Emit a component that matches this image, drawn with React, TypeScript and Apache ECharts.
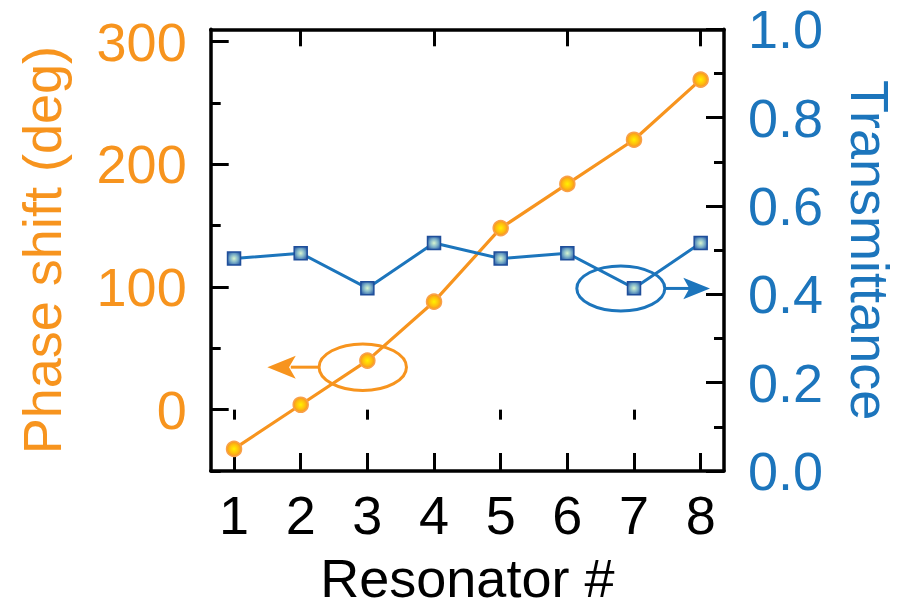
import React, { useEffect, useRef } from "react";
import * as echarts from "echarts";

// ---- data ----
const resonators = [1, 2, 3, 4, 5, 6, 7, 8];
const phaseShift = [-32, 4, 40, 88, 148, 184, 220, 269];
const transmittance = [0.481, 0.493, 0.414, 0.516, 0.481, 0.493, 0.414, 0.516];

// ---- ticks ----
const phaseMajorTicks = [0, 100, 200, 300];
const phaseMinorTicks = [-50, 50, 150, 250];
const xTopLongTicks = [2, 4, 6, 8];
const xTopShortTicks = [1, 3, 5, 7];

const ORANGE = "#F7941E";
const BLUE = "#1C75BC";
const FONT = "'Liberation Sans', Arial, sans-serif";

export default function App() {
  const ref = useRef<HTMLDivElement>(null);

  useEffect(() => {
    const chart = echarts.init(ref.current as HTMLDivElement, null, { renderer: "svg" });

    const frameLine = { show: true, onZero: false, lineStyle: { color: "#000", width: 3.5 } };
    const tickLine = { color: "#000", width: 3 };
    const xCommon: any = { type: "value", min: 0.65, max: 8.35, splitLine: { show: false } };
    const yLeftCommon: any = { type: "value", min: -50, max: 310, splitLine: { show: false }, position: "left" };

    const option: any = {
      animation: false,
      backgroundColor: "#ffffff",
      textStyle: { fontFamily: FONT },
      grid: { left: 210.7, right: 180, top: 29.3, bottom: 131, containLabel: false },
      xAxis: [
        {
          ...xCommon,
          position: "bottom",
          axisLine: frameLine,
          axisTick: { show: true, inside: true, length: 18, customValues: resonators, lineStyle: tickLine },
          axisLabel: { show: true, customValues: resonators, fontSize: 54, color: "#000", margin: 17, fontFamily: FONT },
          name: "Resonator #",
          nameLocation: "middle",
          nameGap: 80,
          nameTextStyle: { fontSize: 54, color: "#000", fontFamily: FONT },
        },
        {
          ...xCommon,
          position: "top",
          axisLine: frameLine,
          axisTick: { show: true, inside: true, length: 17, customValues: xTopLongTicks, lineStyle: tickLine },
          axisLabel: { show: false },
        },
        {
          ...xCommon,
          position: "top",
          axisLine: { show: false },
          axisTick: { show: true, inside: true, length: 10, customValues: xTopShortTicks, lineStyle: tickLine },
          axisLabel: { show: false },
        },
      ],
      yAxis: [
        {
          ...yLeftCommon,
          axisLine: frameLine,
          axisTick: { show: true, inside: true, length: 18, customValues: phaseMajorTicks, lineStyle: tickLine },
          axisLabel: { show: true, customValues: phaseMajorTicks, fontSize: 54, color: ORANGE, margin: 24, fontFamily: FONT },
          name: "Phase shift (deg)",
          nameLocation: "middle",
          nameRotate: 90,
          nameGap: 142,
          nameTextStyle: { fontSize: 54, color: ORANGE, fontFamily: FONT },
        },
        {
          ...yLeftCommon,
          axisLine: { show: false },
          axisTick: { show: true, inside: true, length: 10, customValues: phaseMinorTicks, lineStyle: tickLine },
          axisLabel: { show: false },
        },
        {
          type: "value",
          position: "right",
          min: 0,
          max: 1,
          interval: 0.2,
          splitLine: { show: false },
          axisLine: frameLine,
          axisTick: { show: true, inside: true, length: 18, lineStyle: tickLine },
          minorTick: { show: true, splitNumber: 2, length: 10, lineStyle: tickLine },
          minorSplitLine: { show: false },
          axisLabel: {
            show: true,
            fontSize: 54,
            color: BLUE,
            margin: 24,
            fontFamily: FONT,
            formatter: (v: number) => v.toFixed(1),
          },
          name: "Transmittance",
          nameLocation: "middle",
          nameRotate: -90,
          nameGap: 119,
          nameTextStyle: { fontSize: 54, color: BLUE, fontFamily: FONT },
        },
      ],
      series: [
        {
          name: "Phase shift",
          type: "line",
          xAxisIndex: 0,
          yAxisIndex: 0,
          data: resonators.map((r, i) => [r, phaseShift[i]]),
          symbol: "circle",
          symbolSize: 15,
          lineStyle: { color: ORANGE, width: 3.2 },
          itemStyle: {
            color: new echarts.graphic.RadialGradient(0.5, 0.5, 0.5, [
              { offset: 0, color: "#FFF200" },
              { offset: 0.55, color: "#FFC20E" },
              { offset: 1, color: "#F7941E" },
            ]),
            borderColor: "#F9A04A",
            borderWidth: 1.5,
          },
          z: 2,
        },
        {
          name: "Transmittance",
          type: "line",
          xAxisIndex: 0,
          yAxisIndex: 2,
          data: resonators.map((r, i) => [r, transmittance[i]]),
          symbol: "rect",
          symbolSize: 13,
          lineStyle: { color: BLUE, width: 3 },
          itemStyle: {
            color: new echarts.graphic.RadialGradient(0.5, 0.5, 0.6, [
              { offset: 0, color: "#D8F5D0" },
              { offset: 0.5, color: "#7FB3C8" },
              { offset: 1, color: "#2B5EA8" },
            ]),
            borderColor: "#1F4E9A",
            borderWidth: 1.5,
          },
          z: 3,
        },
      ],
    };

    chart.setOption(option);

    // annotations tied to the data points 3 (phase) and 7 (transmittance)
    const p3 = chart.convertToPixel({ seriesIndex: 0 }, [3, phaseShift[2]]) as number[];
    const p7 = chart.convertToPixel({ seriesIndex: 1 }, [7, transmittance[6]]) as number[];

    const ocx = p3[0] - 4.6;
    const ocy = p3[1] + 6.6;
    const orx = 43.7;
    const ory = 23.3;

    const bcx = p7[0] - 13.2;
    const bcy = p7[1] + 0.3;
    const brx = 44;
    const bry = 22.5;

    chart.setOption({
      graphic: [
        {
          type: "ellipse",
          shape: { cx: ocx, cy: ocy, rx: orx, ry: ory },
          style: { fill: "none", stroke: ORANGE, lineWidth: 3 },
          z: 10,
        },
        {
          type: "line",
          shape: { x1: ocx - orx, y1: ocy, x2: ocx - 72, y2: ocy },
          style: { stroke: ORANGE, lineWidth: 3 },
          z: 10,
        },
        {
          type: "polygon",
          shape: {
            points: [
              [ocx - 95.4, ocy],
              [ocx - 67, ocy - 11.5],
              [ocx - 73.7, ocy],
              [ocx - 67, ocy + 11.5],
            ],
          },
          style: { fill: ORANGE, stroke: "none" },
          z: 10,
        },
        {
          type: "ellipse",
          shape: { cx: bcx, cy: bcy, rx: brx, ry: bry },
          style: { fill: "none", stroke: BLUE, lineWidth: 3 },
          z: 10,
        },
        {
          type: "line",
          shape: { x1: bcx + brx, y1: bcy, x2: bcx + 70, y2: bcy },
          style: { stroke: BLUE, lineWidth: 3 },
          z: 10,
        },
        {
          type: "polygon",
          shape: {
            points: [
              [bcx + 89.2, bcy],
              [bcx + 62.5, bcy - 10.8],
              [bcx + 68.5, bcy],
              [bcx + 62.5, bcy + 10.8],
            ],
          },
          style: { fill: BLUE, stroke: "none" },
          z: 10,
        },
      ],
    });

    return () => {
      chart.dispose();
    };
  }, []);

  return (
    <div
      ref={ref}
      style={{ position: "fixed", left: 0, top: 0, width: 905, height: 610, background: "#fff" }}
    />
  );
}
